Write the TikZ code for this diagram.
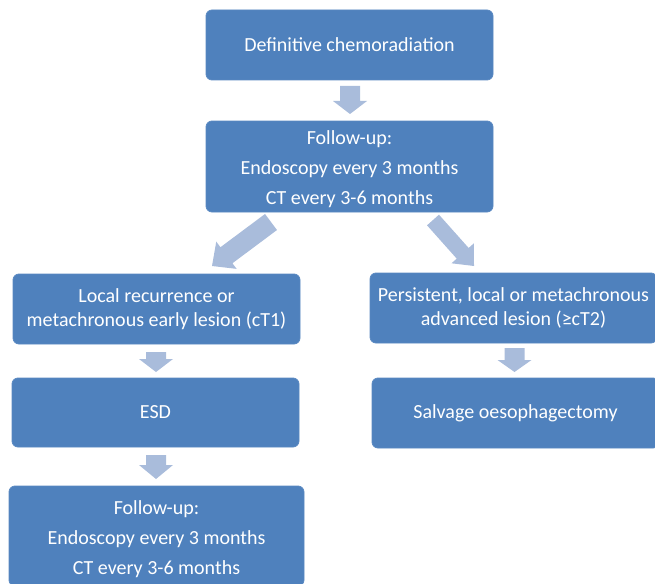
\documentclass[tikz,border=0pt]{standalone}
\usepackage{fontspec}
\setmainfont{Carlito}
\usetikzlibrary{calc}
\definecolor{boxblue}{HTML}{4F81BD}
\definecolor{boxedge}{HTML}{5A89C2}
\definecolor{arrowblue}{HTML}{A9BCDB}
\begin{document}
\begin{tikzpicture}[x=1pt,y=-1pt,
  box/.style={draw=boxedge, line width=0.8pt, fill=boxblue, rounded corners=6pt, text=white,
    align=center, inner sep=0pt, font=\fontsize{20}{24}\selectfont},
  blockarrow/.style n args={3}{to path={
    let \p1=(\tikztostart), \p2=(\tikztotarget), \p3=($(\p2)!#3!(\p1)$) in
    ($(\p1)!#1/2!90:(\p2)$) -- ($(\p3)!#1/2!-90:(\p1)$) -- ($(\p3)!#2/2!-90:(\p1)$)
    -- (\p2) -- ($(\p3)!#2/2!90:(\p1)$) -- ($(\p3)!#1/2!90:(\p1)$)
    -- ($(\p1)!#1/2!-90:(\p2)$) -- cycle}},
  arr/.style={fill=arrowblue}
]
\useasboundingbox (0,0) rectangle (655,583);
\begin{scope}
\clip (0,0) rectangle (655,583);
\node[box, minimum width=287, minimum height=70] (top) at (349.5,45) {Definitive chemoradiation};
\node[box, minimum width=287, minimum height=91] (fu1) at (349.5,166.5)
  {\rule{0pt}{19pt}Follow-up:\\[6pt]Endoscopy every 3 months\\[6pt]CT every 3-6 months};
\node[box, minimum width=287, minimum height=70] (l1) at (156.5,309)
  {Local recurrence or\\metachronous early lesion (cT1)};
\node[box, minimum width=287, minimum height=69] (esd) at (155.5,412.5) {ESD};
\node[box, minimum width=295, minimum height=100] (fu2) at (156.5,536)
  {\rule{0pt}{20pt}Follow-up:\\[6pt]Endoscopy every 3 months\\[6pt]CT every 3-6 months};
\node[box, minimum width=287, minimum height=70] (r1) at (513.5,308)
  {Persistent, local or metachronous\\advanced lesion (≥cT2)};
\node[box, minimum width=287, minimum height=70] (salv) at (515.5,413) {Salvage oesophagectomy};
\end{scope}
% arrow end points
\coordinate (a1s) at (350,86);   \coordinate (a1e) at (350,114);
\coordinate (a2s) at (271,222);  \coordinate (a2e) at (212,266);
\coordinate (a3s) at (433,220);  \coordinate (a3e) at (474,266);
\coordinate (a4s) at (156,352);  \coordinate (a4e) at (156,372);
\coordinate (a5s) at (156,455);  \coordinate (a5e) at (156,479);
\coordinate (a6s) at (514.5,348);\coordinate (a6e) at (514.5,372);
\fill[arr] (a1s) to[blockarrow={20pt}{34pt}{13pt}] (a1e);
\fill[arr] (a2s) to[blockarrow={20pt}{34pt}{18pt}] (a2e);
\fill[arr] (a3s) to[blockarrow={16pt}{30pt}{17pt}] (a3e);
\fill[arr] (a4s) to[blockarrow={20pt}{34pt}{13pt}] (a4e);
\fill[arr] (a5s) to[blockarrow={20pt}{34pt}{14pt}] (a5e);
\fill[arr] (a6s) to[blockarrow={20pt}{34pt}{12pt}] (a6e);
\end{tikzpicture}
\end{document}
